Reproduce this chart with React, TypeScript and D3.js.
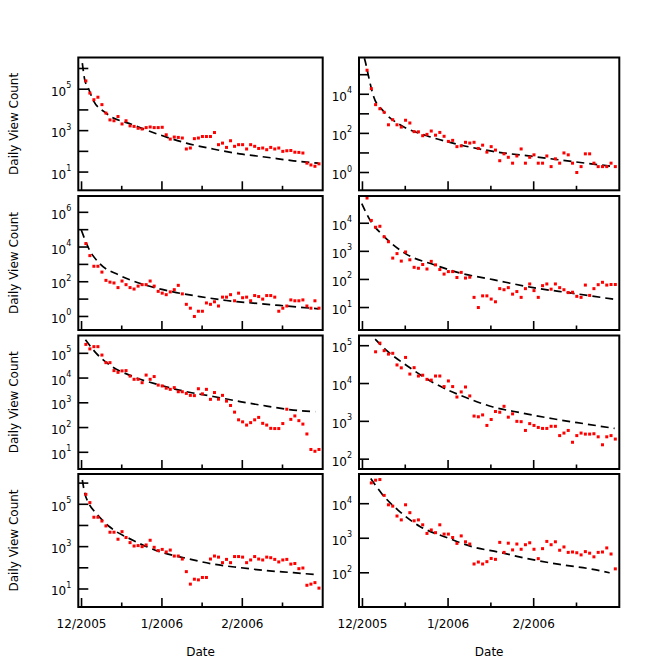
import React, { useEffect, useRef } from 'react';
import * as d3 from 'd3';

// sample dates, in days after 1 Dec 2005
const sampleDays = d3.range(59).map(i => 1.66 + 1.55 * i);

const monthTicks = [0, 31, 62];
const monthLabels = ['12/2005', '1/2006', '2/2006'];
const midMonthTicks = [15.5, 46.5, 77.5];

// daily view counts, one array per video (first = index of first sample)
const views1 = [251000, 65000, 31000, 41000, 18000, 7000, 3300, 3000, 4800, 2100, 3000, 1700, 1600, 1300, 1200, 1400, 1500, 1400, 1400, 1450, 630, 390, 490, 470, 440, 130, 145, 410, 440, 520, 520, 520, 810, 210, 250, 155, 325, 175, 210, 210, 130, 210, 175, 138, 145, 120, 155, 130, 145, 100, 107, 110, 91, 89, 83, 27, 22, 19, 25];
const views2 = [170000, 19500, 2950, 1820, 1200, 275, 500, 275, 210, 470, 340, 123, 120, 76, 89, 132, 81, 112, 71, 39, 44, 21, 23, 35, 32, 35, 17, 25, 11, 21, 14, 4, 9, 6, 3, 7, 16, 3, 6, 8, 3, 3, 7, 2, 5, 3, 10, 8, 3, 1, 2, 9, 9, 3, 2, 2, 2, 3, 2];
const views3 = [15800, 3200, 780, 780, 360, 120, 95, 85, 46, 110, 68, 46, 38, 56, 68, 68, 110, 56, 28, 22, 18, 26, 35, 62, 20, 5, 3, 1, 2, 2, 6, 5, 7, 4, 13, 13, 18, 8, 22, 12, 13, 8, 16, 14, 10, 16, 16, 13, 2, 3, 4, 9, 8, 8, 9, 4, 3, 8, 3];
const views4 = [79000, 12600, 7200, 7800, 3300, 2200, 575, 830, 450, 950, 500, 270, 250, 340, 235, 440, 330, 225, 155, 190, 190, 117, 178, 112, 120, 23, 10, 26, 26, 20, 16, 47, 43, 51, 30, 37, 23, 47, 69, 40, 23, 60, 69, 45, 69, 51, 43, 34, 35, 25, 23, 63, 27, 47, 65, 79, 63, 66, 66];
const views5 = [229000, 151000, 186000, 186000, 85000, 42000, 42000, 20000, 17000, 19500, 20000, 12000, 8900, 8900, 6500, 13200, 8900, 11500, 5200, 4800, 3900, 3500, 4100, 2800, 2800, 2400, 2000, 1950, 3700, 2300, 3500, 1380, 2600, 1400, 2000, 1170, 780, 420, 205, 170, 126, 158, 205, 257, 148, 126, 93, 91, 91, 145, 550, 214, 295, 190, 138, 55, 13, 11, 13];
const views6 = [69000, 117000, 74000, 60000, 63000, 31000, 26000, 49000, 17800, 26300, 15800, 16600, 12900, 12300, 15800, 15800, 8300, 11700, 8300, 4400, 6000, 8100, 4700, 1380, 1320, 1480, 780, 1120, 1820, 1740, 2500, 1290, 1580, 1000, 980, 575, 870, 780, 690, 650, 650, 740, 740, 420, 490, 575, 280, 420, 490, 460, 460, 470, 390, 240, 390, 420, 340];
const views7 = [295000, 120000, 24500, 24500, 16200, 9500, 4800, 4800, 2240, 5100, 2700, 1550, 1070, 1120, 1000, 1200, 2000, 930, 650, 740, 560, 690, 360, 360, 260, 66, 17, 29, 27, 35, 35, 260, 360, 320, 175, 250, 175, 340, 340, 320, 175, 235, 340, 260, 235, 320, 300, 250, 190, 235, 250, 150, 160, 91, 98, 15, 17, 20, 11];
const views8 = [40000, 48000, 50000, 17400, 9300, 8500, 4400, 3400, 9300, 5500, 3200, 3400, 2450, 1380, 1740, 1450, 2450, 1320, 1320, 1050, 710, 1170, 790, 680, 180, 205, 180, 210, 260, 245, 760, 390, 720, 460, 680, 480, 650, 740, 480, 257, 500, 810, 650, 790, 450, 560, 390, 400, 380, 330, 410, 370, 290, 390, 400, 525, 350, 130];

// fitted decay curves [day, views]
const fit1 = [[0.3, 1.8e6], [1.2, 3e5], [2.8, 1e5], [4.4, 31000], [9.5, 6900], [19.8, 1900], [30.1, 630], [40.4, 250], [50.7, 130], [61, 76], [71.4, 52], [81.7, 35], [91.4, 27]];
const fit2 = [[0.7, 7e5], [1, 4.9e5], [2.2, 83000], [4, 7900], [7.6, 1350], [13.6, 275], [23.3, 76], [35.3, 26], [47.3, 12], [61.8, 6.6], [76.3, 3.6], [91.3, 2]];
const fit3 = [[-0.1, 95000], [3.1, 6600], [7, 1120], [14.7, 234], [25, 62], [35.3, 26], [45.6, 14], [55.9, 8.3], [66.2, 5.9], [76.5, 4.3], [91.4, 2.75]];
const fit4 = [[-0.25, 50000], [2.8, 12600], [7.6, 3550], [16, 780], [25.7, 340], [35.3, 170], [47.3, 98], [61.8, 51], [76.3, 32], [91.3, 19.5]];
const fit5 = [[1.5, 350000], [5.7, 100000], [10.8, 34000], [19.8, 11500], [30.2, 5200], [40.5, 2800], [50.8, 1800], [61.1, 1120], [71.4, 740], [81.7, 510], [90.1, 440]];
const fit6 = [[4.6, 150000], [8.8, 74000], [16, 30000], [25.7, 10500], [37.7, 4200], [47.3, 2400], [57, 1700], [69, 1170], [81, 850], [91.3, 650]];
const fit7 = [[0.3, 1.4e6], [1.2, 3.5e5], [2.8, 1.1e5], [5.7, 37000], [10.8, 8700], [19.8, 2000], [30.2, 575], [40.5, 280], [50.8, 150], [61.1, 102], [71.4, 74], [81.7, 59], [90.1, 48]];
const fit8 = [[3, 54000], [7, 19500], [13.6, 5800], [20.8, 2200], [30.5, 1050], [40, 560], [49.8, 390], [59.4, 260], [71.4, 175], [83.5, 126], [89.5, 100]];

const panels = [
  { views: views1, first: 0, fit: fit1, yExp: [0.12, 6.53], labelStep: 2 },
  { views: views2, first: 0, fit: fit2, yExp: [-0.91, 5.88], labelStep: 2 },
  { views: views3, first: 0, fit: fit3, yExp: [-0.78, 6.94], labelStep: 2 },
  { views: views4, first: 0, fit: fit4, yExp: [0.2, 4.97], labelStep: 1 },
  { views: views5, first: 0, fit: fit5, yExp: [0.325, 5.72], labelStep: 1 },
  { views: views6, first: 2, fit: fit6, yExp: [1.74, 5.27], labelStep: 1 },
  { views: views7, first: 0, fit: fit7, yExp: [0.15, 6.43], labelStep: 2 },
  { views: views8, first: 1, fit: fit8, yExp: [1.01, 4.86], labelStep: 1 },
];

const W = 654;
const H = 665;
const cols = [[78.3, 322.7], [359, 619.3]];
const rows = [[57.5, 190.3], [196, 330], [335.5, 469], [474, 607]];
const FONT = '"DejaVu Sans", Verdana, sans-serif';

const App = () => {
  const svgRef = useRef<SVGSVGElement>(null);

  useEffect(() => {
    const svg = d3.select(svgRef.current);
    svg.selectAll('*').remove();

    svg.append('rect').attr('width', W).attr('height', H).attr('fill', '#fff');

    panels.forEach((p, k) => {
      const [x0, x1] = cols[k % 2];
      const [y0, y1] = rows[Math.floor(k / 2)];

      const x = d3.scaleLinear().domain([-1.25, 93]).range([x0, x1]);
      const y = d3.scaleLog()
        .domain([Math.pow(10, p.yExp[0]), Math.pow(10, p.yExp[1])])
        .range([y1, y0]);

      const g = svg.append('g');
      const clipId = `clip${k}`;
      g.append('clipPath').attr('id', clipId)
        .append('rect')
        .attr('x', x0).attr('y', y0)
        .attr('width', x1 - x0).attr('height', y1 - y0);

      const inner = g.append('g').attr('clip-path', `url(#${clipId})`);

      // fitted curve
      const line = d3.line<number[]>()
        .x(d => x(d[0]))
        .y(d => y(d[1]))
        .curve(d3.curveMonotoneX);
      inner.append('path')
        .attr('d', line(p.fit))
        .attr('fill', 'none')
        .attr('stroke', '#000')
        .attr('stroke-width', 1.7)
        .attr('stroke-dasharray', '8,5');

      // observed views
      inner.selectAll('rect.pt')
        .data(p.views)
        .enter().append('rect')
        .attr('class', 'pt')
        .attr('x', (d, i) => x(sampleDays[i + p.first]) - 1.5)
        .attr('y', d => y(d) - 1.5)
        .attr('width', 3)
        .attr('height', 3)
        .attr('fill', '#ff0000');

      // y ticks (inward) and labels
      const lo = Math.ceil(p.yExp[0]);
      const hi = Math.floor(p.yExp[1]);
      d3.range(lo, hi + 1).forEach(e => {
        const yy = y(Math.pow(10, e));
        g.append('line')
          .attr('x1', x0).attr('x2', x0 + 10)
          .attr('y1', yy).attr('y2', yy)
          .attr('stroke', '#000').attr('stroke-width', 1.6);
        if ((e - lo) % p.labelStep === 0) {
          const t = g.append('text')
            .attr('x', x0 - 7)
            .attr('y', yy + 6.5)
            .attr('text-anchor', 'end')
            .attr('font-family', FONT)
            .attr('font-size', 12)
            .attr('fill', '#000');
          t.append('tspan').text('10');
          t.append('tspan').attr('dy', -7.5).attr('font-size', 8).text(String(e));
        }
      });

      // x ticks (inward from bottom)
      monthTicks.forEach(d => {
        g.append('line')
          .attr('x1', x(d)).attr('x2', x(d))
          .attr('y1', y1).attr('y2', y1 - 9)
          .attr('stroke', '#000').attr('stroke-width', 1.6);
      });
      midMonthTicks.forEach(d => {
        g.append('line')
          .attr('x1', x(d)).attr('x2', x(d))
          .attr('y1', y1).attr('y2', y1 - 4.5)
          .attr('stroke', '#000').attr('stroke-width', 1.6);
      });

      // frame
      g.append('rect')
        .attr('x', x0).attr('y', y0)
        .attr('width', x1 - x0).attr('height', y1 - y0)
        .attr('fill', 'none')
        .attr('stroke', '#000')
        .attr('stroke-width', 2);

      // y axis title on left column
      if (k % 2 === 0) {
        const cy = (y0 + y1) / 2;
        g.append('text')
          .attr('transform', `translate(17.5,${cy}) rotate(-90)`)
          .attr('text-anchor', 'middle')
          .attr('font-family', FONT)
          .attr('font-size', 12)
          .attr('fill', '#000')
          .text('Daily View Count');
      }

      // date labels on bottom row
      if (k >= 6) {
        monthTicks.forEach((d, i) => {
          g.append('text')
            .attr('x', x(d))
            .attr('y', 627.5)
            .attr('text-anchor', 'middle')
            .attr('font-family', FONT)
            .attr('font-size', 12)
            .attr('fill', '#000')
            .text(monthLabels[i]);
        });
        g.append('text')
          .attr('x', (x0 + x1) / 2)
          .attr('y', 656)
          .attr('text-anchor', 'middle')
          .attr('font-family', FONT)
          .attr('font-size', 12)
          .attr('fill', '#000')
          .text('Date');
      }
    });
  }, []);

  return (
    <div style={{ position: 'absolute', left: 0, top: 0 }}>
      <svg ref={svgRef} width={W} height={H} style={{ display: 'block' }}></svg>
    </div>
  );
};

export default App;
